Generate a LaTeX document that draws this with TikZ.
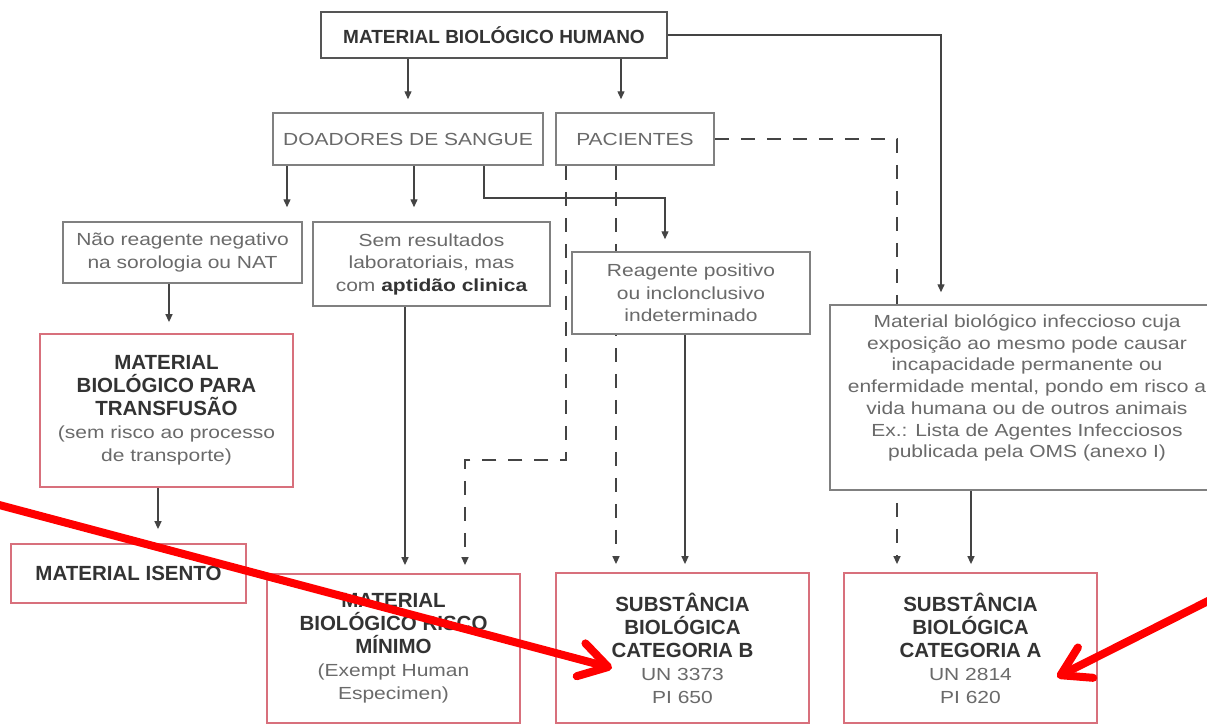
\documentclass[tikz,border=0pt]{standalone}
\usepackage{fontspec}
\setmainfont{Liberation Sans}
\newfontfamily\widefont{Liberation Sans}[FakeStretch=1.2]
\usetikzlibrary{arrows.meta,calc}
\definecolor{boxgray}{HTML}{808080}
\definecolor{txtgray}{HTML}{6A6A6A}
\definecolor{darktxt}{HTML}{333333}
\definecolor{linegray}{HTML}{444444}
\definecolor{boxred}{HTML}{D8707C}
\definecolor{topframe}{HTML}{555555}
\definecolor{markred}{HTML}{FF0000}
\newcommand{\subnote}[1]{{\widefont\mdseries\fontsize{17.5}{22}\selectfont\color{txtgray}#1}}
\pgfdeclarelayer{paper}
\pgfdeclarelayer{links}
\pgfsetlayers{paper,links,main}
\begin{document}
\begin{tikzpicture}[x=1pt,y=-1pt,
  greybox/.style={draw=boxgray,line width=1.5pt,fill=white,inner sep=0pt,align=center,
    text=txtgray,font=\widefont\fontsize{17.5}{22.5}\selectfont},
  redbox/.style={draw=boxred,line width=1.8pt,fill=white,inner sep=0pt,align=center,
    text=darktxt,font=\bfseries\fontsize{20.5}{23}\selectfont},
  sz/.style 2 args={minimum width=#1pt,minimum height=#2pt},
  link/.style={draw=linegray,line width=1.4pt,-{Triangle[length=8pt,width=7pt]}},
  dlink/.style={link,dash pattern=on 14pt off 12pt},
  redarrow/.style={draw=markred,line width=8pt,line cap=round,
    -{Straight Barb[length=28pt,width=34pt,round]}}
]
\begin{pgfonlayer}{paper}
\fill[white] (0,0) rectangle (1207,724);
\end{pgfonlayer}
\useasboundingbox (0,0) rectangle (1207,724);

% --- boxes ---
\node[draw=topframe,line width=2.5pt,fill=white,sz={346}{46},inner sep=0pt,
  text=darktxt,font=\bfseries\fontsize{19}{22}\selectfont] (hum) at (494,35)
  {MATERIAL BIOLÓGICO HUMANO};
\node[greybox,sz={270}{52}] (doad) at (408,139) {DOADORES DE SANGUE};
\node[greybox,sz={158}{52}] (pac) at (635,139) {PACIENTES};
\node[greybox,sz={239}{61}] (nao) at (182.5,252.5) {Não reagente negativo\\na sorologia ou NAT};
\node[greybox,sz={237}{84}] (sem) at (431.5,264)
  {Sem resultados\\laboratoriais, mas\\com {\color{darktxt}\bfseries aptidão clinica}};
\node[greybox,sz={238}{82}] (reag) at (691,293) {Reagente positivo\\ou inclonclusivo\\indeterminado};
\node[greybox,sz={395}{185}] (big) at (1027.5,397.5) {};
\node[text=txtgray,font=\widefont\fontsize{17.5}{21.7}\selectfont,align=center,inner sep=0pt]
  (bigtext) at (1027,388)
  {Material biológico infeccioso cuja\\exposição ao mesmo pode causar\\incapacidade permanente ou\\enfermidade mental, pondo em risco a\\vida humana ou de outros animais\\Ex.: Lista de Agentes Infecciosos\\publicada pela OMS (anexo I)};

\node[redbox,sz={253}{153}] (transf) at (166.5,410.5)
  {MATERIAL\\BIOLÓGICO PARA\\TRANSFUSÃO\\\subnote{(sem risco ao processo}\\\subnote{de transporte)}};
\node[redbox,sz={235}{59}] (isento) at (128.5,573.5) {MATERIAL ISENTO};
\node[redbox,sz={253}{149}] (risco) at (393.5,648.5)
  {MATERIAL\\BIOLÓGICO RISCO\\MÍNIMO\\\subnote{(Exempt Human}\\\subnote{Especimen)}};
\node[redbox,sz={253}{150}] (catb) at (682.5,648)
  {SUBSTÂNCIA\\BIOLÓGICA\\CATEGORIA B\\\subnote{UN 3373}\\\subnote{PI 650}};
\node[redbox,sz={253}{150}] (cata) at (970.5,648)
  {SUBSTÂNCIA\\BIOLÓGICA\\CATEGORIA A\\\subnote{UN 2814}\\\subnote{PI 620}};

% --- connector columns and bends ---
\coordinate (cPac) at (621,0);
\coordinate (cBig) at (941,0);
\coordinate (cN) at (287,0);
\coordinate (cS) at (414,0);
\coordinate (cR1) at (484,0);
\coordinate (kinkR) at (665,198);
\coordinate (cT) at (169,0);
\coordinate (cI) at (158,0);
\coordinate (cM) at (405,0);
\coordinate (cD1) at (566,0);
\coordinate (kinkD) at (465,460);
\coordinate (cD2) at (616,0);
\coordinate (cB) at (685,0);
\coordinate (cD3) at (897,0);
\coordinate (cA) at (971,0);

% --- connectors ---
\begin{pgfonlayer}{links}
\draw[link,shorten >=13pt] (hum.south -| doad) -- (doad.north);
\draw[link,shorten >=13pt] (hum.south -| cPac) -- (pac.north -| cPac);
\draw[link,shorten >=12pt] (hum.east) -| (big.north -| cBig);
\draw[link,shorten >=14pt] (doad.south -| cN) -- (nao.north -| cN);
\draw[link,shorten >=14pt] (doad.south -| cS) -- (sem.north -| cS);
\draw[link,shorten >=12pt] (doad.south -| cR1) |- (kinkR) -- (reag.north -| kinkR);
\draw[link,shorten >=11pt] (nao.south -| cT) -- (transf.north -| cT);
\draw[link,shorten >=14pt] (transf.south -| cI) -- (isento.north -| cI);
\draw[link,shorten >=8pt] (sem.south -| cM) -- (risco.north -| cM);
\draw[dlink,shorten >=8pt] (pac.south -| cD1) |- (kinkD) -- (risco.north -| kinkD);
\draw[dlink,shorten >=8pt] (pac.south -| cD2) -- (catb.north -| cD2);
\draw[link,shorten >=8pt] (reag.south -| cB) -- (catb.north -| cB);
\draw[dlink,shorten >=8pt] (pac.east) -| (cata.north -| cD3);
\draw[link,shorten >=8pt] (big.south -| cA) -- (cata.north -| cA);
\end{pgfonlayer}

% --- red pointer arrows ---
\coordinate (rs1) at (-12,502);
\coordinate (rt1) at (612,668);
\coordinate (rs2) at (1222,594);
\coordinate (rt2) at (1057,677);
\draw[redarrow] (rs1) -- (rt1);
\draw[redarrow] (rs2) -- (rt2);
\end{tikzpicture}
\end{document}
